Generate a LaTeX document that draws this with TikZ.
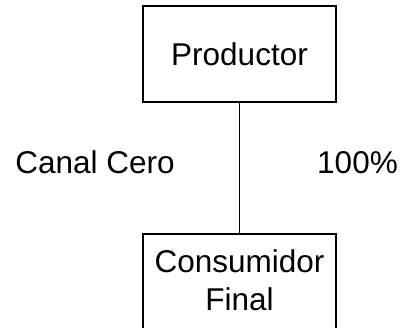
\documentclass[tikz,border=0pt]{standalone}
\usepackage{fontspec}
\setmainfont{Liberation Sans}
\begin{document}
\begin{tikzpicture}[x=1pt, y=-1pt,
  every node/.style={font=\fontsize{31.5}{38}\selectfont},
  stagebox/.style={draw, line width=1.8pt, minimum width=193pt, inner sep=0pt},
  link/.style={line width=1.8pt},
  caption/.style={anchor=base, inner sep=0pt}]
  % page frame
  \useasboundingbox (0,0) rectangle (406,327);
  \clip (0,0) rectangle (406,327);

  % producer box
  \node[stagebox, minimum height=96pt] (prod) at (239.5,54) {Productor};

  % consumer box (runs past the lower edge of the page)
  \node[stagebox, minimum height=140pt, anchor=north] (cons) at (239.5,233) {};
  \node[align=center, anchor=north, inner sep=0pt] (consname)
    at ([yshift=-16pt]cons.north) {Consumidor\\Final};

  % direct channel
  \draw[link] (prod.south) -- (cons.north);

  % channel labels
  \node[caption] (canal) at (95,173) {Canal Cero};
  \node[caption] (share) at (357.5,173) {100\%};
\end{tikzpicture}
\end{document}
